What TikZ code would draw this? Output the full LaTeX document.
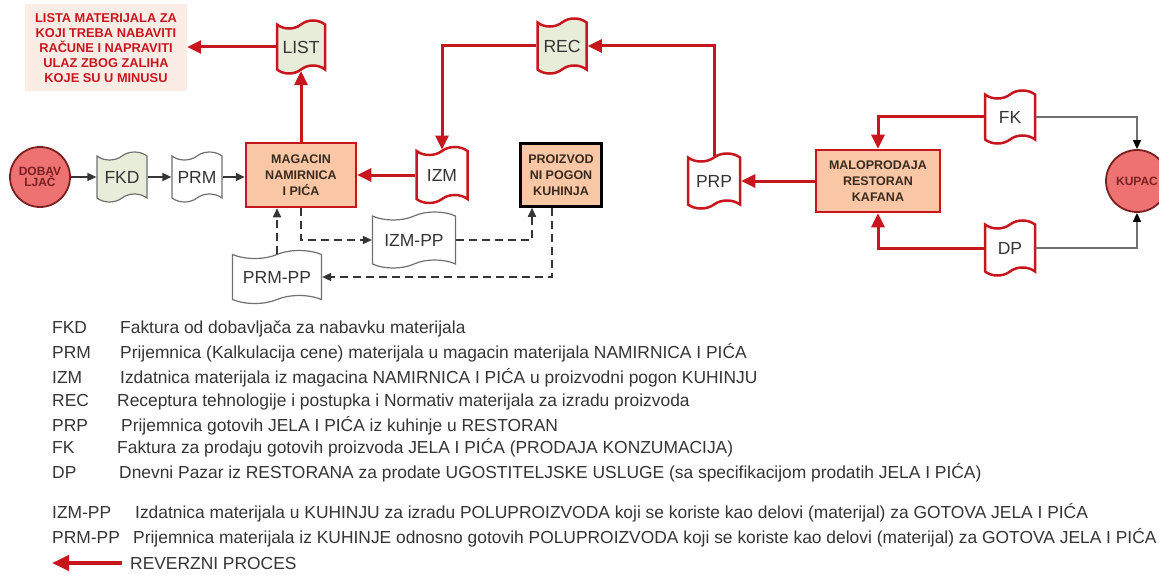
\documentclass[tikz,border=0pt]{standalone}
\usepackage{fontspec}
\setmainfont{Liberation Sans}
\usetikzlibrary{shapes.symbols,arrows.meta}
\definecolor{lred}{HTML}{C8161E}
\definecolor{docgreen}{HTML}{E8EDD9}
\definecolor{peach}{HTML}{F9C7A6}
\definecolor{listfill}{HTML}{FBEDE6}
\definecolor{circfill}{HTML}{EF7272}
\definecolor{circdraw}{HTML}{7A2020}
\definecolor{darktext}{HTML}{353535}
\definecolor{boxtext}{HTML}{3A2A1E}
\definecolor{lgray}{HTML}{707070}
\begin{document}
\begin{tikzpicture}[x=1pt,y=-1pt,
  doc/.style={tape, draw=lgray, line width=1.2pt, fill=white, minimum width=50pt, minimum height=50pt,
    inner sep=1pt, tape bend height=8pt, font=\fontsize{17.5}{17.5}\selectfont, text=darktext},
  reddoc/.style={doc, draw=lred, line width=2.5pt},
  procbox/.style={rectangle, draw=lred, line width=2.5pt, fill=peach, align=center, inner sep=1pt,
    font=\bfseries\fontsize{12.5}{16}\selectfont, text=boxtext},
  actor/.style={circle, draw=circdraw, line width=1.8pt, fill=circfill, align=center, inner sep=0pt,
    minimum size=60pt, font=\bfseries\fontsize{12}{13}\selectfont, text=circdraw},
  redarr/.style={draw=lred, line width=3pt, -{Triangle[length=14pt,width=13pt]}},
  blkarr/.style={draw=darktext, line width=1.6pt, -{Triangle[length=9pt,width=8pt]}},
  grayarr/.style={draw=lgray, line width=1.6pt, -{Triangle[length=9pt,width=8pt,fill=black,color=black]}},
  dasharr/.style={draw=darktext, line width=1.6pt, dash pattern=on 8pt off 5pt, -{Triangle[length=9pt,width=8pt]}},
  legabbr/.style={anchor=base west, inner sep=0pt, font=\fontsize{17.4}{17.4}\selectfont, text=darktext},
]
\useasboundingbox (0,0) rectangle (1159,575);
\fill[white] (0,0) rectangle (1159,575);
\begin{scope}
\clip (0,0) rectangle (1159,575);
% actors
\node[actor] (dob) at (40,177) {DOBAV\\[-2pt]LJAČ};
\node[actor, minimum size=62pt] (kupac) at (1137,181) {KUPAC};
\end{scope}
% documents
\node[doc, fill=docgreen] (fkd) at (122,177) {FKD};
\node[doc] (prm) at (197,177) {PRM};
\node[reddoc, fill=docgreen, minimum width=48pt, minimum height=53pt] (list) at (301,47) {LIST};
\node[reddoc, fill=docgreen, minimum width=49pt, minimum height=55pt] (rec) at (562,46) {REC};
\node[reddoc, minimum width=51pt, minimum height=56pt] (izm) at (442,175) {IZM};
\node[reddoc, minimum width=52pt, minimum height=55pt] (prp) at (714,181) {PRP};
\node[reddoc, minimum width=50pt, minimum height=53pt] (fk) at (1010,117) {FK};
\node[reddoc, minimum width=50pt, minimum height=55pt] (dp) at (1010,248) {DP};
\node[doc, minimum width=83pt, minimum height=56pt] (izmpp) at (414,240) {IZM-PP};
\node[doc, minimum width=89pt, minimum height=53pt] (prmpp) at (277,277) {PRM-PP};
% process boxes
\node[procbox, minimum width=110pt, minimum height=64pt] (mag) at (301,175) {MAGACIN\\NAMIRNICA\\I PIĆA};
\node[procbox, draw=black, minimum width=81pt, minimum height=63pt] (kuh) at (561,175) {PROIZVOD\\NI POGON\\KUHINJA};
\node[procbox, minimum width=124pt, minimum height=62pt] (malo) at (878,181) {MALOPRODAJA\\RESTORAN\\KAFANA};
% note box
\node[rectangle, fill=listfill, minimum width=162pt, minimum height=87pt, align=center, inner sep=0pt,
  font=\bfseries\fontsize{12.8}{15}\selectfont, text=lred] (lista) at (106,48)
  {LISTA MATERIJALA ZA\\KOJI TREBA NABAVITI\\RAČUNE I NAPRAVITI\\ULAZ ZBOG ZALIHA\\KOJE SU U MINUSU};
% black flow
\draw[blkarr] (dob.east) -- (fkd.west);
\draw[blkarr] (fkd.east) -- (prm.west);
\draw[blkarr] (prm.east) -- (prm.east -| mag.west);
% red flows
\draw[redarr] (mag.north) -- (list.south);
\draw[redarr] (list.west) -- (list.west -| lista.east);
\draw[redarr] (izm.west) -- (izm.west -| mag.east);
\draw[redarr] (rec.west) -| (izm.north);
\draw[redarr] (prp.north) |- (rec.east);
\draw[redarr] (malo.west) -- (malo.west -| prp.east);
\draw[redarr] (fk.west) -| (malo.north);
\draw[redarr] (dp.west) -| (malo.south);
% gray to customer
\draw[grayarr] (fk.east) -| (kupac.north);
\draw[grayarr] (dp.east) -| (kupac.south);
% dashed semi-product loop
\draw[dasharr] (mag.south) |- (izmpp.west);
\draw[dasharr] (izmpp.east) -| ([xshift=-29pt]kuh.south);
\draw[dasharr] ([xshift=-9pt]kuh.south) |- (prmpp.east);
\draw[dasharr] (prmpp.north) -- (prmpp.north |- mag.south);
% legend
\node[legabbr] (l1a) at (52,333) {FKD};
\node[legabbr] (l1b) at (120,333) {Faktura od dobavljača za nabavku materijala};
\node[legabbr] (l2a) at (52,358) {PRM};
\node[legabbr] (l2b) at (120,358) {Prijemnica (Kalkulacija cene) materijala u magacin materijala NAMIRNICA I PIĆA};
\node[legabbr] (l3a) at (52,383) {IZM};
\node[legabbr] (l3b) at (120,383) {Izdatnica materijala iz magacina NAMIRNICA I PIĆA u proizvodni pogon KUHINJU};
\node[legabbr] (l4a) at (52,406) {REC};
\node[legabbr] (l4b) at (117,406) {Receptura tehnologije i postupka i Normativ materijala za izradu proizvoda};
\node[legabbr] (l5a) at (52,431) {PRP};
\node[legabbr] (l5b) at (121,431) {Prijemnica gotovih JELA I PIĆA iz kuhinje u RESTORAN};
\node[legabbr] (l6a) at (52,453) {FK};
\node[legabbr] (l6b) at (117,453) {Faktura za prodaju gotovih proizvoda JELA I PIĆA (PRODAJA KONZUMACIJA)};
\node[legabbr] (l7a) at (52,478) {DP};
\node[legabbr] (l7b) at (119,478) {Dnevni Pazar iz RESTORANA za prodate UGOSTITELJSKE USLUGE (sa specifikacijom prodatih JELA I PIĆA)};
\node[legabbr] (l8a) at (52,518) {IZM-PP};
\node[legabbr] (l8b) at (135,518) {Izdatnica materijala u KUHINJU za izradu POLUPROIZVODA koji se koriste kao delovi (materijal) za GOTOVA JELA I PIĆA};
\node[legabbr] (l9a) at (52,543) {PRM-PP};
\node[legabbr] (l9b) at (133,543) {Prijemnica materijala iz KUHINJE odnosno gotovih POLUPROIZVODA koji se koriste kao delovi (materijal) za GOTOVA JELA I PIĆA};
\coordinate (revs) at (122,563);
\coordinate (reve) at (52,563);
\draw[draw=lred, line width=4pt, -{Triangle[length=17pt,width=15pt]}] (revs) -- (reve);
\node[legabbr] (l10) at (130,569) {REVERZNI PROCES};
\end{tikzpicture}
\end{document}
